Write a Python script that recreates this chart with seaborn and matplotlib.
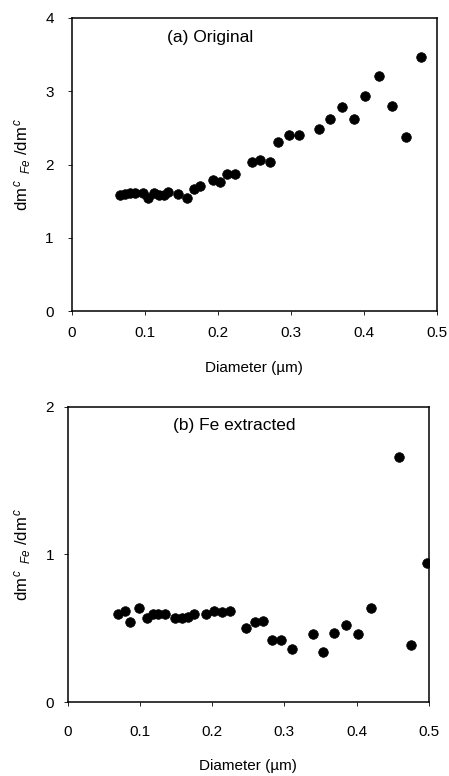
import matplotlib
matplotlib.use("Agg")
import matplotlib.pyplot as plt
import seaborn as sns
import pandas as pd

# ---------------------------
# Data
# ---------------------------
diam_a = [0.066, 0.073, 0.080, 0.087, 0.098, 0.105, 0.112, 0.119, 0.126, 0.132,
          0.146, 0.158, 0.167, 0.175, 0.193, 0.203, 0.212, 0.224, 0.247, 0.258,
          0.271, 0.283, 0.297, 0.311, 0.339, 0.354, 0.370, 0.386, 0.402, 0.421,
          0.438, 0.458, 0.478]
ratio_a = [1.58, 1.60, 1.61, 1.61, 1.61, 1.55, 1.61, 1.58, 1.58, 1.62,
           1.60, 1.55, 1.67, 1.71, 1.79, 1.76, 1.87, 1.87, 2.03, 2.06,
           2.03, 2.31, 2.40, 2.40, 2.49, 2.62, 2.78, 2.62, 2.93, 3.21,
           2.80, 2.38, 3.47]

diam_b = [0.070, 0.079, 0.086, 0.099, 0.110, 0.118, 0.125, 0.134, 0.148, 0.158,
          0.167, 0.175, 0.192, 0.202, 0.213, 0.225, 0.247, 0.259, 0.270, 0.283,
          0.295, 0.310, 0.339, 0.353, 0.369, 0.385, 0.402, 0.420, 0.459, 0.475,
          0.498]
ratio_b = [0.60, 0.62, 0.54, 0.64, 0.57, 0.60, 0.60, 0.60, 0.57, 0.57,
           0.58, 0.60, 0.60, 0.62, 0.61, 0.62, 0.50, 0.54, 0.55, 0.42,
           0.42, 0.36, 0.46, 0.34, 0.47, 0.52, 0.46, 0.64, 1.66, 0.39,
           0.94]

x_ticks = [0, 0.1, 0.2, 0.3, 0.4, 0.5]
x_ticklabels = ["0", "0.1", "0.2", "0.3", "0.4", "0.5"]

df_a = pd.DataFrame({"Diameter": diam_a, "Ratio": ratio_a})
df_b = pd.DataFrame({"Diameter": diam_b, "Ratio": ratio_b})

# ---------------------------
# Style
# ---------------------------
sns.set_style("white")
plt.rcParams["font.family"] = ["Liberation Sans", "DejaVu Sans"]
plt.rcParams["mathtext.fontset"] = "custom"
plt.rcParams["mathtext.rm"] = "Liberation Sans"
plt.rcParams["mathtext.it"] = "Liberation Sans:italic"
for key in ["text.color", "axes.labelcolor", "xtick.color", "ytick.color"]:
    plt.rcParams[key] = "black"
plt.rcParams["xtick.bottom"] = True
plt.rcParams["ytick.left"] = True

fig = plt.figure(figsize=(4.49, 7.76), dpi=100)
ax_a = fig.add_axes([0.160, 0.599, 0.813, 0.378])
ax_b = fig.add_axes([0.151, 0.095, 0.804, 0.381])

ylabel = r"dm$^{\,c}$ $_{\,Fe}$ /dm$^{\,c}$"


def draw_panel(ax, df, ymax, title, title_x, xpad, ypad):
    sns.scatterplot(data=df, x="Diameter", y="Ratio", ax=ax,
                    color="black", s=48, edgecolor="black", linewidth=0.5)
    ax.set_xlim(0, 0.5)
    ax.set_ylim(0, ymax)
    ax.set_xticks(x_ticks)
    ax.set_xticklabels(x_ticklabels)
    ax.set_yticks(range(0, ymax + 1))
    ax.tick_params(axis="both", labelsize=11, length=3, width=0.6,
                   direction="out")
    ax.tick_params(axis="x", pad=xpad)
    ax.tick_params(axis="y", pad=ypad)
    ax.set_xlabel("Diameter (\u00b5m)", fontsize=11, labelpad=15)
    ax.set_ylabel(ylabel, fontsize=12, labelpad=9)
    for sp in ax.spines.values():
        sp.set_color("black")
        sp.set_linewidth(1.1)
    ax.text(title_x, 0.96, title, transform=ax.transAxes,
            ha="center", va="top", fontsize=12.5)


draw_panel(ax_a, df_a, 4, "(a) Original", 0.38, xpad=8, ypad=10)
draw_panel(ax_b, df_b, 2, "(b) Fe extracted", 0.46, xpad=13, ypad=7)

fig.savefig("out.png", dpi=100)
